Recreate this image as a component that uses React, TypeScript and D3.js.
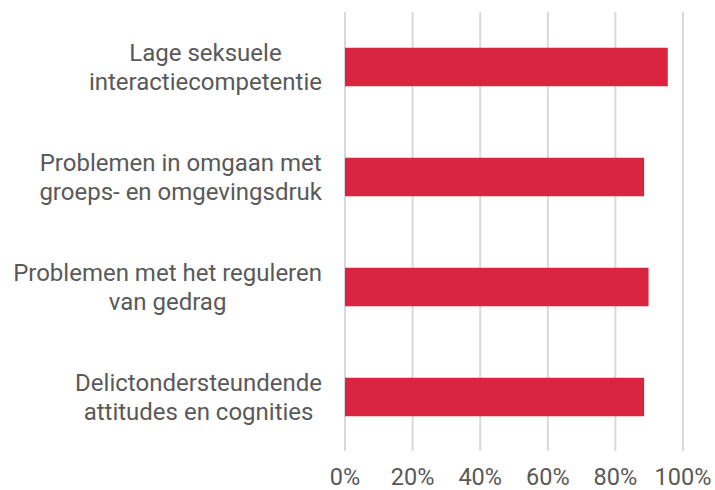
import React, { useEffect, useRef } from "react";
import * as d3 from "d3";

const categories: string[][] = [
  ["Lage seksuele", "interactiecompetentie"],
  ["Problemen in omgaan met", "groeps- en omgevingsdruk"],
  ["Problemen met het reguleren", "van gedrag"],
  ["Delictondersteundende", "attitudes en cognities"],
];
const values: number[] = [0.955, 0.885, 0.898, 0.885];
const ticks: number[] = [0, 0.2, 0.4, 0.6, 0.8, 1.0];

const W = 715;
const H = 490;

export default function App() {
  const ref = useRef<SVGSVGElement | null>(null);
  useEffect(() => {
    const svg = d3.select(ref.current);
    svg.selectAll("*").remove();
    const x = d3.scaleLinear().domain([0, 1]).range([345, 683]);
    const y = d3
      .scaleBand<number>()
      .domain(d3.range(categories.length))
      .range([12, 452])
      .paddingInner(0.65)
      .paddingOuter(0.325);
    const font = "Roboto, sans-serif";
    const color = "#595959";

    svg
      .append("g")
      .selectAll("line")
      .data(ticks)
      .join("line")
      .attr("x1", (d) => x(d))
      .attr("x2", (d) => x(d))
      .attr("y1", 12)
      .attr("y2", 451)
      .attr("stroke", "#d9d9d9")
      .attr("stroke-width", 2);

    svg
      .append("g")
      .selectAll("rect")
      .data(values)
      .join("rect")
      .attr("x", x(0))
      .attr("y", (_, i) => y(i)!)
      .attr("width", (d) => x(d) - x(0))
      .attr("height", y.bandwidth())
      .attr("fill", "#d9253f");

    svg
      .append("g")
      .selectAll("text")
      .data(ticks)
      .join("text")
      .attr("x", (d) => x(d))
      .attr("y", 485)
      .attr("text-anchor", "middle")
      .attr("font-family", font)
      .attr("font-size", 23.5)
      .attr("fill", color)
      .text((d) => d3.format(".0%")(d));

    const labels = svg.append("g");
    categories.forEach((lines, i) => {
      const cy = y(i)! + y.bandwidth() / 2;
      const g = labels.append("g");
      const texts = lines.map((t, j) =>
        g
          .append("text")
          .attr("y", cy + (j - (lines.length - 1) / 2) * 29 + 8.5)
          .attr("text-anchor", "middle")
          .attr("font-family", font)
          .attr("font-size", 24)
          .attr("fill", color)
          .text(t)
      );
      const maxW = d3.max(texts, (t) => (t.node() as SVGTextElement).getComputedTextLength()) || 0;
      const cx = 322 - maxW / 2;
      texts.forEach((t) => t.attr("x", cx));
    });
  }, []);
  return <svg ref={ref} width={W} height={H} style={{ position: "absolute", left: 0, top: 0, background: "#fff" }} />;
}
